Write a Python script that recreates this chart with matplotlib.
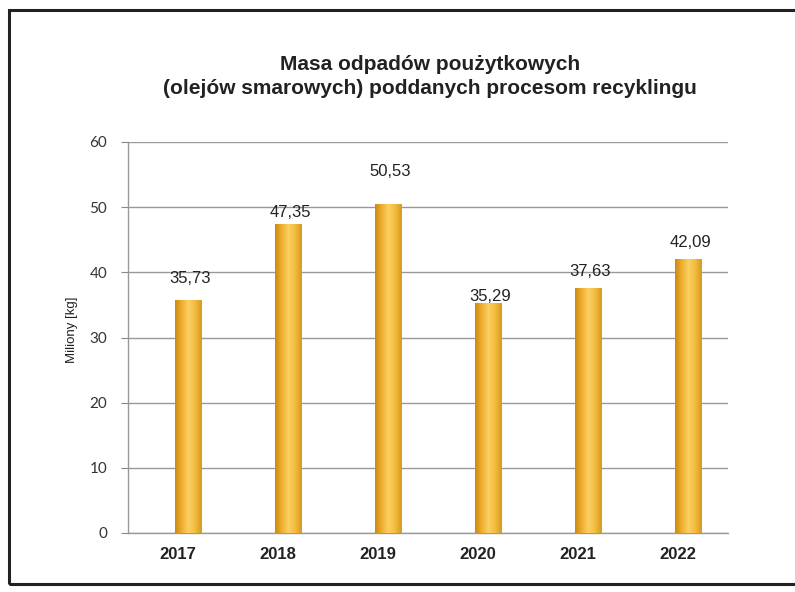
import matplotlib
matplotlib.use("Agg")
import matplotlib.pyplot as plt
import numpy as np
from matplotlib.patches import Rectangle
from matplotlib.colors import LinearSegmentedColormap

years = ["2017", "2018", "2019", "2020", "2021", "2022"]
values = [35.73, 47.35, 50.53, 35.29, 37.63, 42.09]
value_labels = ["35,73", "47,35", "50,53", "35,29", "37,63", "42,09"]
yticks = [0, 10, 20, 30, 40, 50, 60]

# label offsets above bar tops (points) - style only
label_offsets = [6, -1, 14, -5, 2, 2]

fig = plt.figure(figsize=(7.95, 5.92), dpi=100)
fig.patch.set_facecolor("white")

# outer frame
frame = Rectangle((9 / 795, 1 - 584 / 592), 1.0, (584 - 10) / 592,
                  transform=fig.transFigure, fill=False, edgecolor="#222222",
                  linewidth=2.2, zorder=0)
fig.patches.append(frame)

ax = fig.add_axes([128 / 795, 1 - 533 / 592, (728 - 128) / 795, (533 - 142) / 592])
ax.set_facecolor("white")

x = np.arange(len(years))
bw = 0.27
bars = ax.bar(x + 0.1, values, width=bw, color="#F2B233", edgecolor="none", zorder=3)

cmap = LinearSegmentedColormap.from_list(
    "gold", ["#C98A14", "#EFAE2E", "#FBD062", "#F4BB3E", "#D49A1E"])
grad = np.linspace(0, 1, 256).reshape(1, -1)
for b in bars:
    im = ax.imshow(grad, cmap=cmap, aspect="auto", zorder=3.5,
                   extent=[b.get_x(), b.get_x() + b.get_width(), 0, b.get_height()])
    im.set_clip_path(b)

ax.set_xlim(-0.5, len(years) - 0.5)
ax.set_ylim(0, 60)
ax.set_yticks(yticks)
ax.set_yticklabels([str(t) for t in yticks], fontsize=11, color="#333333",
                   family=["Lato", "DejaVu Sans"])
ax.set_xticks(x)
ax.set_xticklabels(years, fontsize=12, fontweight="bold", color="#222222",
                   family=["Liberation Sans", "DejaVu Sans"])
ax.tick_params(axis="x", length=0, pad=10)
ax.tick_params(axis="y", length=5, color="#888888", pad=10)

ax.yaxis.grid(True, color="#999999", linewidth=1.0, zorder=0)
ax.set_axisbelow(True)
for s in ["top", "right"]:
    ax.spines[s].set_visible(False)
ax.spines["left"].set_color("#999999")
ax.spines["bottom"].set_color("#999999")
ax.spines["left"].set_linewidth(1.0)
ax.spines["bottom"].set_linewidth(1.0)

for xi, v, lab, off in zip(x, values, value_labels, label_offsets):
    ax.annotate(lab, (xi + 0.12, v), xytext=(0, off + 4), textcoords="offset points",
                ha="center", va="bottom", fontsize=12, color="#222222",
                family=["Liberation Sans", "DejaVu Sans"])

ax.set_ylabel("Miliony [kg]", fontsize=9.5, color="#222222",
              family=["Liberation Sans", "DejaVu Sans"])
ax.yaxis.set_label_coords(-(128 - 78) / 600, 0.52)

fig.text(430 / 795, 1 - 64 / 592, "Masa odpadów poużytkowych", ha="center", va="center",
         fontsize=15, fontweight="bold", color="#222222",
         family=["Liberation Sans", "DejaVu Sans"])
fig.text(430 / 795, 1 - 89 / 592, "(olejów smarowych) poddanych procesom recyklingu",
         ha="center", va="center", fontsize=15, fontweight="bold", color="#222222",
         family=["Liberation Sans", "DejaVu Sans"])

fig.savefig("out.png", dpi=100)
